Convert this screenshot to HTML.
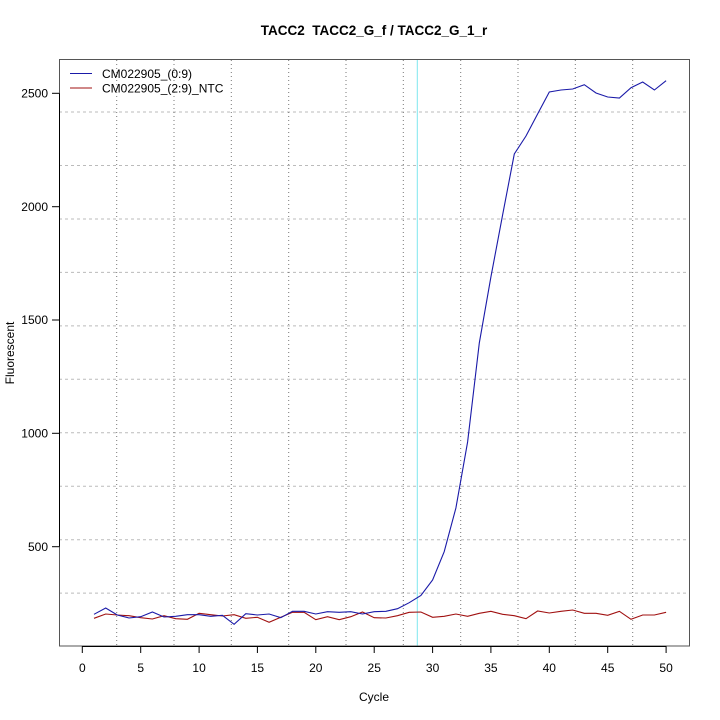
<!DOCTYPE html>
<html><head><meta charset="utf-8"><style>body{margin:0;background:#fff}svg{display:block}</style></head>
<body>
<svg width="720" height="720" xmlns="http://www.w3.org/2000/svg" font-family="Liberation Sans, sans-serif">
<rect width="720" height="720" fill="#fff"/>
<g stroke="#bbb" stroke-dasharray="3,3" stroke-width="1">
<line x1="59" x2="690" y1="112" y2="112"/><line x1="59" x2="690" y1="165.5" y2="165.5"/>
<line x1="59" x2="690" y1="219" y2="219"/><line x1="59" x2="690" y1="272.4" y2="272.4"/>
<line x1="59" x2="690" y1="325.9" y2="325.9"/><line x1="59" x2="690" y1="379.3" y2="379.3"/>
<line x1="59" x2="690" y1="432.8" y2="432.8"/><line x1="59" x2="690" y1="486.2" y2="486.2"/>
<line x1="59" x2="690" y1="539.7" y2="539.7"/><line x1="59" x2="690" y1="593.1" y2="593.1"/>
</g>
<g stroke="#777" stroke-dasharray="1,3" stroke-width="1">
<line y1="60" y2="646" x1="116.7" x2="116.7"/><line y1="60" y2="646" x1="174" x2="174"/>
<line y1="60" y2="646" x1="231.3" x2="231.3"/><line y1="60" y2="646" x1="288.7" x2="288.7"/>
<line y1="60" y2="646" x1="346" x2="346"/><line y1="60" y2="646" x1="403.3" x2="403.3"/>
<line y1="60" y2="646" x1="460.7" x2="460.7"/><line y1="60" y2="646" x1="518" x2="518"/>
<line y1="60" y2="646" x1="575.3" x2="575.3"/><line y1="60" y2="646" x1="632.7" x2="632.7"/>
</g>
<line x1="417.3" x2="417.3" y1="60" y2="646" stroke="#7ee8ee" stroke-width="1"/>
<rect x="59.5" y="59.5" width="630" height="586.5" fill="none" stroke="#555" stroke-width="1"/>
<polyline fill="none" stroke="#a01010" stroke-width="1.1" points="94,618.3 105.7,614 117.3,615 129,615.7 140.7,617.7 152.4,619 164,615.7 175.7,618.7 187.4,619.3 199.1,613.3 210.7,614.7 222.4,616 234.1,614.7 245.8,618.3 257.4,617.3 269.1,622.3 280.8,617.3 292.5,612.3 304.1,612.3 315.8,619.7 327.5,616.7 339.2,619.7 350.8,616.7 362.5,612 374.2,617.7 385.9,618 397.5,615.7 409.2,612.3 420.9,612 432.6,617.3 444.2,616.3 455.9,614 467.6,616.3 479.3,613.3 490.9,611.3 502.6,614.3 514.3,615.7 526,618.7 537.6,611 549.3,613 561,611.3 572.7,610 584.3,613.3 596,613.3 607.7,615.3 619.4,611.3 631,619.3 642.7,615 654.4,615 666.1,612.3"/>
<polyline fill="none" stroke="#1a1aa8" stroke-width="1.1" points="94,614.3 105.7,608 117.3,615 129,618 140.7,616.7 152.4,612 164,617 175.7,616.3 187.4,614.7 199.1,614.7 210.7,616.3 222.4,615.3 234.1,624.3 245.8,613.7 257.4,615 269.1,614 280.8,617.7 292.5,611.3 304.1,611.3 315.8,614 327.5,611.7 339.2,612.3 350.8,611.7 362.5,614 374.2,611.7 385.9,611.3 397.5,608.7 409.2,602.7 420.9,595.5 432.6,580 444.2,551.7 455.9,508 467.6,442 479.3,343 490.9,277 502.6,215 514.3,154 526,136 537.6,114 549.3,92 561,90 572.7,89 584.3,84.7 596,93 607.7,97 619.4,98 631,87.7 642.7,82 654.4,90 666.1,80.7"/>
<g stroke="#000" stroke-width="1">
<line x1="82.3" x2="666.1" y1="646.5" y2="646.5"/>
<line x1="82.3" x2="82.3" y1="646" y2="653"/><line x1="140.7" x2="140.7" y1="646" y2="653"/><line x1="199.1" x2="199.1" y1="646" y2="653"/><line x1="257.4" x2="257.4" y1="646" y2="653"/><line x1="315.8" x2="315.8" y1="646" y2="653"/><line x1="374.2" x2="374.2" y1="646" y2="653"/><line x1="432.6" x2="432.6" y1="646" y2="653"/><line x1="490.9" x2="490.9" y1="646" y2="653"/><line x1="549.3" x2="549.3" y1="646" y2="653"/><line x1="607.7" x2="607.7" y1="646" y2="653"/><line x1="666.1" x2="666.1" y1="646" y2="653"/>
<line x1="59.5" x2="59.5" y1="93.3" y2="546.7"/>
<line x1="52" x2="59" y1="93.3" y2="93.3"/><line x1="52" x2="59" y1="206.7" y2="206.7"/><line x1="52" x2="59" y1="320" y2="320"/><line x1="52" x2="59" y1="433.3" y2="433.3"/><line x1="52" x2="59" y1="546.7" y2="546.7"/>
</g>
<g font-size="12" fill="#000" text-anchor="middle">
<text x="82.3" y="672">0</text><text x="140.7" y="672">5</text><text x="199.1" y="672">10</text><text x="257.4" y="672">15</text><text x="315.8" y="672">20</text><text x="374.2" y="672">25</text><text x="432.6" y="672">30</text><text x="490.9" y="672">35</text><text x="549.3" y="672">40</text><text x="607.7" y="672">45</text><text x="666.1" y="672">50</text>
</g>
<g font-size="12" fill="#000" text-anchor="end">
<text x="48" y="97.5">2500</text><text x="48" y="211">2000</text><text x="48" y="324">1500</text><text x="48" y="437.5">1000</text><text x="48" y="551">500</text>
</g>
<text x="374" y="701" font-size="12" text-anchor="middle">Cycle</text>
<text transform="translate(14,353) rotate(-90)" font-size="12" text-anchor="middle">Fluorescent</text>
<text x="374" y="35" font-size="13.5" font-weight="bold" text-anchor="middle">TACC2&#160; TACC2_G_f / TACC2_G_1_r</text>
<line x1="70" x2="92" y1="73.5" y2="73.5" stroke="#1a1aa8" stroke-width="1.1"/>
<line x1="70" x2="92" y1="88" y2="88" stroke="#a01010" stroke-width="1.1"/>
<text x="102" y="78" font-size="12">CM022905_(0:9)</text>
<text x="102" y="92.5" font-size="12">CM022905_(2:9)_NTC</text>
</svg>
</body></html>
